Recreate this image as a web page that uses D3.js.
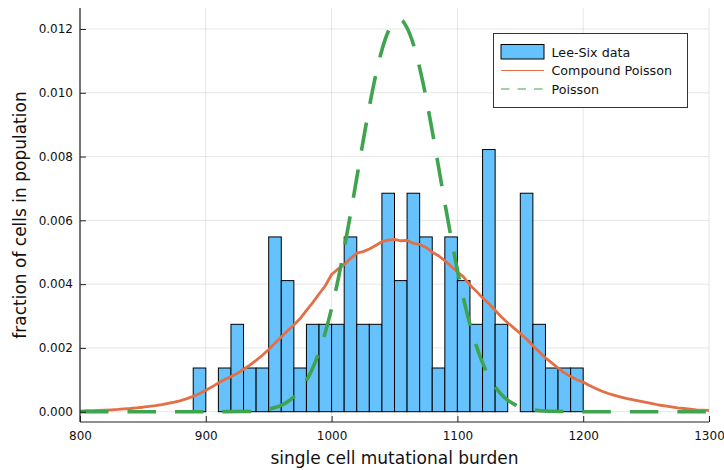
<!DOCTYPE html>
<html>
<head>
<meta charset="utf-8">
<script src="https://cdn.jsdelivr.net/npm/d3@7"></script>
<style>
  html, body { margin: 0; padding: 0; background: #fff; }
  svg { display: block; font-family: "DejaVu Sans", sans-serif; }
</style>
</head>
<body>
<svg id="chart" width="724" height="470"></svg>
<script>
// ---- data ----
const binStart = [890,900,910,920,930,940,950,960,970,980,990,1000,1010,1020,1030,1040,1050,1060,1070,1080,1090,1100,1110,1120,1130,1140,1150,1160,1170,1180,1190];
const binWidth = 10;
const leeSixDensity = [0.00137,0,0.00137,0.00274,0.00137,0.00137,0.00548,0.00411,0.00137,0.00274,0.00274,0.00274,0.00548,0.00274,0.00274,0.00685,0.00411,0.00685,0.00548,0.00137,0.00548,0.00411,0.00274,0.00822,0.00274,0,0.00685,0.00274,0.00137,0.00137,0.00137];

const compoundX = [800,805,810,815,820,825,830,835,840,845,850,855,860,865,870,875,880,885,890,895,900,905,910,915,920,925,930,935,940,945,950,955,960,965,970,975,980,985,990,995,1000,1005,1010,1015,1020,1025,1030,1035,1040,1045,1050,1055,1060,1065,1070,1075,1080,1085,1090,1095,1100,1105,1110,1115,1120,1125,1130,1135,1140,1145,1150,1155,1160,1165,1170,1175,1180,1185,1190,1195,1200,1205,1210,1215,1220,1225,1230,1235,1240,1245,1250,1255,1260,1265,1270,1275,1280,1285,1290,1295,1300];
const compoundY = [0.00002,0.00003,0.00003,0.00004,0.00005,0.00006,0.00007,0.00009,0.00010,0.00012,0.00014,0.00017,0.00019,0.00022,0.00026,0.00030,0.00035,0.00041,0.00048,0.00057,0.00067,0.00078,0.00090,0.00101,0.00110,0.00120,0.00133,0.00146,0.00161,0.00177,0.00195,0.00215,0.00234,0.00254,0.00272,0.00292,0.00318,0.00342,0.00369,0.00395,0.00430,0.00447,0.00461,0.00480,0.00497,0.00502,0.00510,0.00521,0.00533,0.00538,0.00540,0.00536,0.00537,0.00528,0.00525,0.00515,0.00500,0.00489,0.00474,0.00456,0.00439,0.00422,0.00397,0.00378,0.00357,0.00339,0.00318,0.00297,0.00279,0.00262,0.00245,0.00228,0.00207,0.00188,0.00169,0.00153,0.00137,0.00122,0.00110,0.00100,0.00093,0.00082,0.00073,0.00064,0.00057,0.00051,0.00046,0.00041,0.00037,0.00033,0.00029,0.00025,0.00021,0.00018,0.00015,0.00012,0.00010,0.00008,0.00006,0.00005,0.00004];

const poissonX = [800,850,900,930,940,945,950,955,960,965,970,975,980,985,990,995,1000,1005,1010,1015,1020,1025,1030,1035,1040,1045,1050,1055,1060,1065,1070,1075,1080,1085,1090,1095,1100,1105,1110,1115,1120,1125,1130,1135,1140,1145,1150,1155,1160,1170,1180,1200,1250,1300];
const poissonY = [0,0,0,0.000005,0.00002,0.00004,0.00008,0.00013,0.00020,0.00031,0.00047,0.00068,0.00098,0.00137,0.00187,0.00249,0.00324,0.00411,0.00511,0.00619,0.00733,0.00847,0.00956,0.01054,0.01134,0.01192,0.01224,0.01228,0.01203,0.01152,0.01078,0.00986,0.00880,0.00768,0.00655,0.00546,0.00444,0.00352,0.00273,0.00207,0.00153,0.00110,0.00078,0.00054,0.00036,0.00024,0.00015,0.00009,0.00006,0.00002,0.00001,0,0,0];

const xTicks = [800,900,1000,1100,1200,1300];
const yTicks = [0,0.002,0.004,0.006,0.008,0.010,0.012];
const xLabel = "single cell mutational burden";
const yLabel = "fraction of cells in population";
const legendLabels = ["Lee-Six data","Compound Poisson","Poisson"];

// ---- layout ----
const svg = d3.select("#chart");
const L = 80, R = 709, T = 8, B = 422;
const x = d3.scaleLinear().domain([800,1300]).range([L,R]);
const y = d3.scaleLinear().domain([-0.000323,0.012658]).range([B,T]);

const barFill = "#66c2fc", orange = "#e36f47", green = "#3ea44e";

// grid
const grid = svg.append("g");
grid.selectAll(".gx").data(xTicks).enter().append("line")
  .attr("x1", d => x(d)).attr("x2", d => x(d)).attr("y1", T).attr("y2", B)
  .attr("stroke", "#000").attr("stroke-opacity", 0.1).attr("stroke-width", 1);
grid.selectAll(".gy").data(yTicks).enter().append("line")
  .attr("x1", L).attr("x2", R).attr("y1", d => y(d)).attr("y2", d => y(d))
  .attr("stroke", "#000").attr("stroke-opacity", 0.1).attr("stroke-width", 1);

// bars
const bars = binStart.map((s,i) => ({x0: s, x1: s + binWidth, v: leeSixDensity[i]}));
svg.append("g").selectAll("rect").data(bars).enter().append("rect")
  .attr("x", d => x(d.x0)).attr("width", d => x(d.x1) - x(d.x0))
  .attr("y", d => y(d.v)).attr("height", d => y(0) - y(d.v))
  .attr("fill", barFill).attr("stroke", "#000").attr("stroke-width", 1);

// compound poisson
const cp = compoundX.map((v,i) => [v, compoundY[i]]);
svg.append("path").datum(cp)
  .attr("d", d3.line().x(d => x(d[0])).y(d => y(d[1])))
  .attr("fill", "none").attr("stroke", orange).attr("stroke-width", 2.8)
  .attr("stroke-linejoin", "round");

// poisson dashed
const po = poissonX.map((v,i) => [v, poissonY[i]]);
svg.append("path").datum(po)
  .attr("d", d3.line().x(d => x(d[0])).y(d => y(d[1])).curve(d3.curveMonotoneX))
  .attr("fill", "none").attr("stroke", green).attr("stroke-width", 3.6)
  .attr("stroke-dasharray", "28.5,19");

// axes
const xAxis = d3.axisBottom(x).tickValues(xTicks).tickSize(-6).tickPadding(9).tickFormat(d3.format("d"));
const gx = svg.append("g").attr("transform", `translate(0,${B})`).call(xAxis);
const yAxis = d3.axisLeft(y).tickValues(yTicks).tickSize(-6).tickPadding(7).tickFormat(d3.format(".3f"));
const gy = svg.append("g").attr("transform", `translate(${L},0)`).call(yAxis);
[gx, gy].forEach(g => {
  g.select(".domain").attr("stroke", "#222").attr("stroke-width", 1.2);
  g.selectAll(".tick line").attr("stroke", "#222");
  g.selectAll(".tick text").attr("fill", "#111").style("font-size", "12px").style("font-family", "DejaVu Sans, sans-serif");
});
gx.select(".domain").attr("d", `M${L},0H${R}`);
gy.select(".domain").attr("d", `M0,${B}V${T}`);

// axis labels
svg.append("text").attr("x", (L+R)/2).attr("y", 464).attr("text-anchor", "middle")
  .style("font-size", "17px").attr("fill", "#111").text(xLabel);
svg.append("text").attr("transform", `translate(25.5,${(T+B)/2}) rotate(-90)`).attr("text-anchor", "middle")
  .style("font-size", "17px").attr("fill", "#111").text(yLabel);

// legend
const lg = svg.append("g");
lg.append("rect").attr("x", 493.5).attr("y", 33.5).attr("width", 194).attr("height", 74)
  .attr("fill", "#fff").attr("stroke", "#333").attr("stroke-width", 1);
lg.append("rect").attr("x", 501).attr("y", 44.5).attr("width", 43).attr("height", 14.5)
  .attr("fill", barFill).attr("stroke", "#000").attr("stroke-width", 1);
lg.append("line").attr("x1", 501).attr("x2", 544).attr("y1", 70.5).attr("y2", 70.5)
  .attr("stroke", orange).attr("stroke-width", 1.2);
lg.append("line").attr("x1", 501).attr("x2", 544).attr("y1", 89).attr("y2", 89)
  .attr("stroke", green).attr("stroke-width", 1.2).attr("stroke-dasharray", "8.5,8");
legendLabels.forEach((t,i) => {
  lg.append("text").attr("x", 551.5).attr("y", [52.5,71,89.5][i]).attr("dy", "0.35em")
    .style("font-size", "12.7px").attr("fill", "#111").text(t);
});
</script>
</body>
</html>
